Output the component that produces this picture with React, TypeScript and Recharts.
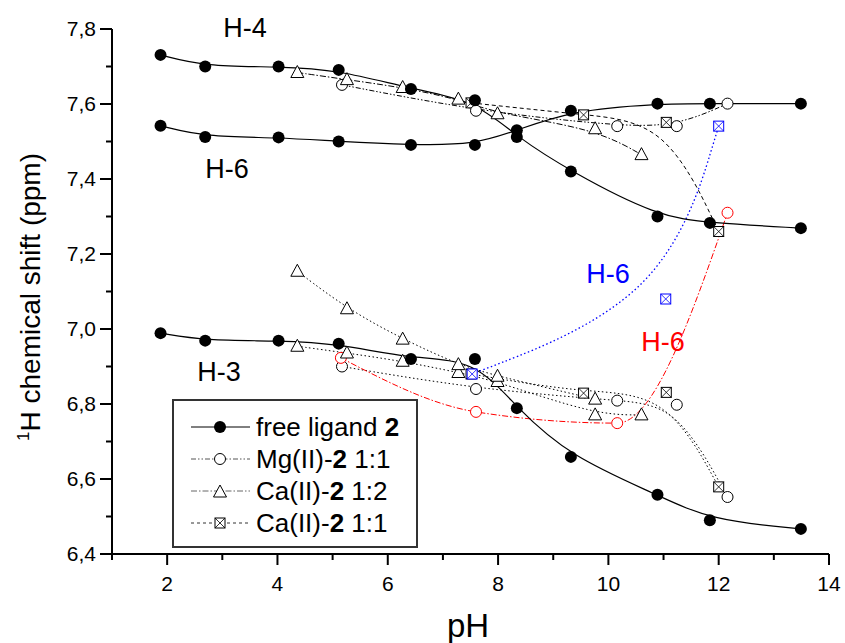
import { LineChart, Line, XAxis, YAxis, Legend } from "recharts";

// pH values and shifts (ppm)
const pHFree = [1.88, 2.69, 4.02, 5.11, 6.42, 7.58, 8.34, 9.32, 10.89, 11.84, 13.49];
const freeH4 = [7.731, 7.7, 7.7, 7.691, 7.64, 7.61, 7.512, 7.42, 7.3, 7.283, 7.269];
const freeH6 = [7.542, 7.512, 7.511, 7.5, 7.491, 7.491, 7.53, 7.582, 7.601, 7.601, 7.601];
const freeH3 = [6.989, 6.969, 6.969, 6.961, 6.92, 6.92, 6.789, 6.659, 6.558, 6.49, 6.467];

const pHMg = [5.17, 7.6, 10.16, 11.24, 12.16];
const mgH4 = [7.651, 7.582, 7.541, 7.541, 7.601];
const mgH3 = [6.9, 6.84, 6.809, 6.798, 6.552];
const pHMgH6 = [5.15, 7.6, 10.16, 12.16];
const mgH6 = [6.923, 6.779, 6.749, 7.31];

const pHCa12 = [4.36, 5.26, 6.27, 7.28, 7.99, 9.76, 10.6];
const ca12H4 = [7.684, 7.665, 7.644, 7.613, 7.574, 7.534, 7.465];
const ca12H3 = [6.954, 6.936, 6.914, 6.884, 6.86, 6.771, 6.771];
const pHCa12H6 = [4.36, 5.26, 6.27, 7.28, 7.99, 9.76];
const ca12H6 = [7.154, 7.054, 6.973, 6.905, 6.874, 6.813];

const pHCa11 = [7.51, 9.55, 11.05, 12.0];
const ca11H4 = [7.603, 7.571, 7.551, 7.26];
const ca11H3 = [6.88, 6.829, 6.831, 6.579];
const pHCa11H6 = [7.53, 11.04, 12.0];
const ca11H6 = [6.88, 7.08, 7.541];

const xTicks = [1, 2, 3, 4, 5, 6, 7, 8, 9, 10, 11, 12, 13, 14];
const yTicks = [6.4, 6.5, 6.6, 6.7, 6.8, 6.9, 7.0, 7.1, 7.2, 7.3, 7.4, 7.5, 7.6, 7.7, 7.8];

const FONT = "'Liberation Sans', Arial, sans-serif";

const zip = (xs: number[], ys: number[]) => xs.map((x, i) => ({ x, y: ys[i] }));

const filledDot = (p: any) => (
  <circle key={p.key ?? p.index} cx={p.cx} cy={p.cy} r={6} fill="#000" />
);

const openCircle = (color: string) => (p: any) => (
  <circle key={p.key ?? p.index} cx={p.cx} cy={p.cy} r={5.5} fill="#fff" stroke={color} strokeWidth={1} />
);

const triangle = (color: string) => (p: any) => (
  <path
    key={p.key ?? p.index}
    d={`M${p.cx},${p.cy - 7} L${p.cx + 6.5},${p.cy + 5} L${p.cx - 6.5},${p.cy + 5} Z`}
    fill="#fff"
    stroke={color}
    strokeWidth={1}
  />
);

const crossSquare = (color: string) => (p: any) => (
  <g key={p.key ?? p.index}>
    <rect x={p.cx - 5} y={p.cy - 5} width={10} height={10} fill="#fff" stroke={color} strokeWidth={1} />
    <path
      d={`M${p.cx - 5},${p.cy - 5} L${p.cx + 5},${p.cy + 5} M${p.cx + 5},${p.cy - 5} L${p.cx - 5},${p.cy + 5}`}
      stroke={color}
      strokeWidth={0.8}
    />
  </g>
);

const YTick = (props: any) => {
  const { x, y, payload } = props;
  const major = Math.round(payload.value * 10) % 2 === 0;
  return (
    <g>
      <line x1={x - (major ? 12 : 6)} x2={x} y1={y} y2={y} stroke="#000" strokeWidth={2} />
      {major && (
        <text x={x - 16} y={y + 7} textAnchor="end" fontSize={21} fontFamily={FONT} fill="#000">
          {payload.value.toFixed(1).replace(".", ",")}
        </text>
      )}
    </g>
  );
};

const XTick = (props: any) => {
  const { x, y, payload } = props;
  const major = payload.value % 2 === 0;
  return (
    <g>
      <line x1={x} x2={x} y1={y} y2={y + (major ? 11 : 6)} stroke="#000" strokeWidth={2} />
      {major && (
        <text x={x} y={y + 37} textAnchor="middle" fontSize={21} fontFamily={FONT} fill="#000">
          {payload.value}
        </text>
      )}
    </g>
  );
};

const legendRows = [
  { name: "free ligand ", bold: "2", tail: "", dash: undefined, color: "#000", marker: "filled" },
  { name: "Mg(II)-", bold: "2", tail: " 1:1", dash: "5 2 1.5 2 1.5 2", color: "#555", marker: "circle" },
  { name: "Ca(II)-", bold: "2", tail: " 1:2", dash: "6 2 1.5 2", color: "#666", marker: "triangle" },
  { name: "Ca(II)-", bold: "2", tail: " 1:1", dash: "3 3", color: "#333", marker: "square" },
];

const LegendBox = () => (
  <div
    style={{
      width: 246,
      height: 149,
      border: "2px solid #333",
      background: "#fff",
      fontFamily: FONT,
      fontSize: 26,
      color: "#000",
      paddingTop: 10,
      boxSizing: "border-box",
    }}
  >
    {legendRows.map((r, i) => (
      <div key={i} style={{ display: "flex", alignItems: "center", height: 32 }}>
        <svg width={82} height={32} style={{ flex: "none" }}>
          <line x1={17} x2={76} y1={16} y2={16} stroke={r.color} strokeWidth={1} strokeDasharray={r.dash} />
          {r.marker === "filled" && filledDot({ cx: 46, cy: 16, index: 0 })}
          {r.marker === "circle" && openCircle("#000")({ cx: 46, cy: 16, index: 0 })}
          {r.marker === "triangle" && triangle("#000")({ cx: 46, cy: 17, index: 0 })}
          {r.marker === "square" && crossSquare("#000")({ cx: 46, cy: 16, index: 0 })}
        </svg>
        <span style={{ whiteSpace: "nowrap" }}>
          {r.name}
          <b>{r.bold}</b>
          {r.tail}
        </span>
      </div>
    ))}
  </div>
);

export default function App() {
  return (
    <div style={{ position: "absolute", left: 0, top: 0, background: "#fff" }}>
      <LineChart width={845} height={643} margin={{ top: 29, right: 16, left: 12, bottom: 0 }}>
        <XAxis
          type="number"
          dataKey="x"
          domain={[1, 14]}
          ticks={xTicks}
          interval={0}
          height={89}
          tickSize={0}
          tickMargin={0}
          tick={XTick}
          axisLine={{ stroke: "#000", strokeWidth: 2 }}
          allowDataOverflow
        />
        <YAxis
          type="number"
          domain={[6.4, 7.8]}
          ticks={yTicks}
          interval={0}
          width={100}
          tickSize={0}
          tickMargin={0}
          tick={YTick}
          axisLine={{ stroke: "#000", strokeWidth: 2 }}
          allowDataOverflow
        />
        <Legend
          layout="vertical"
          align="center"
          verticalAlign="middle"
          content={LegendBox}
          wrapperStyle={{ left: 172, top: 399, width: 246, height: 149 }}
        />

        <Line data={zip(pHCa11, ca11H4)} dataKey="y" type="basis" stroke="#000" strokeWidth={1} strokeDasharray="4 3" dot={crossSquare("#000")} activeDot={false} isAnimationActive={false} />
        <Line data={zip(pHCa11, ca11H3)} dataKey="y" type="basis" stroke="#000" strokeWidth={1} strokeDasharray="1.5 2.5" dot={crossSquare("#000")} activeDot={false} isAnimationActive={false} />
        <Line data={zip(pHCa11H6, ca11H6)} dataKey="y" type="basis" stroke="#0000ff" strokeWidth={1.3} strokeDasharray="1.5 2.5" dot={crossSquare("#0000ff")} activeDot={false} isAnimationActive={false} />

        <Line data={zip(pHMg, mgH4)} dataKey="y" type="basis" stroke="#000" strokeWidth={1} strokeDasharray="5 2 1.5 2 1.5 2" dot={openCircle("#000")} activeDot={false} isAnimationActive={false} />
        <Line data={zip(pHMg, mgH3)} dataKey="y" type="basis" stroke="#000" strokeWidth={1} strokeDasharray="1.5 2.5" dot={openCircle("#000")} activeDot={false} isAnimationActive={false} />
        <Line data={zip(pHMgH6, mgH6)} dataKey="y" type="monotone" stroke="#ff0000" strokeWidth={1} strokeDasharray="6 2 1.5 2" dot={openCircle("#ff0000")} activeDot={false} isAnimationActive={false} />

        <Line data={zip(pHCa12, ca12H4)} dataKey="y" type="basis" stroke="#000" strokeWidth={1} strokeDasharray="6 2 1.5 2" dot={triangle("#000")} activeDot={false} isAnimationActive={false} />
        <Line data={zip(pHCa12, ca12H3)} dataKey="y" type="basis" stroke="#000" strokeWidth={1} strokeDasharray="1.5 2.5" dot={triangle("#000")} activeDot={false} isAnimationActive={false} />
        <Line data={zip(pHCa12H6, ca12H6)} dataKey="y" type="basis" stroke="#000" strokeWidth={1} strokeDasharray="1.5 2.5" dot={triangle("#000")} activeDot={false} isAnimationActive={false} />

        <Line data={zip(pHFree, freeH4)} dataKey="y" type="basis" stroke="#000" strokeWidth={1.2} dot={filledDot} activeDot={false} isAnimationActive={false} />
        <Line data={zip(pHFree, freeH6)} dataKey="y" type="basis" stroke="#000" strokeWidth={1.2} dot={filledDot} activeDot={false} isAnimationActive={false} />
        <Line data={zip(pHFree, freeH3)} dataKey="y" type="basis" stroke="#000" strokeWidth={1.2} dot={filledDot} activeDot={false} isAnimationActive={false} />

        <text x={245} y={37} textAnchor="middle" fontSize={27} fontFamily={FONT} fill="#000">H-4</text>
        <text x={227} y={178} textAnchor="middle" fontSize={27} fontFamily={FONT} fill="#000">H-6</text>
        <text x={219} y={381} textAnchor="middle" fontSize={27} fontFamily={FONT} fill="#000">H-3</text>
        <text x={608} y={283} textAnchor="middle" fontSize={27} fontFamily={FONT} fill="#0000ff">H-6</text>
        <text x={663} y={351} textAnchor="middle" fontSize={27} fontFamily={FONT} fill="#ff0000">H-6</text>

        <text x={468} y={637} textAnchor="middle" fontSize={33} fontFamily={FONT} fill="#000">pH</text>
        <text x={40} y={297} transform="rotate(-90 40 297)" textAnchor="middle" fontSize={28} fontFamily={FONT} fill="#000">
          <tspan fontSize={17} dy={-11}>1</tspan>
          <tspan dy={11}>H chemical shift (ppm)</tspan>
        </text>
      </LineChart>
    </div>
  );
}
